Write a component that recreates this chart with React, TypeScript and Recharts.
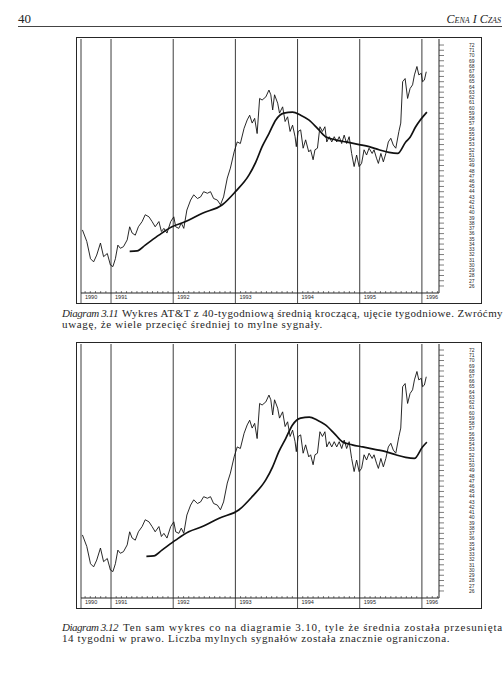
import React, { useLayoutEffect, useRef, useState } from "react";
import { LineChart, Line, XAxis, YAxis, ReferenceLine } from "recharts";

// weekly AT&T closes, read off the scan (decimal years)
const priceDates = [
  1990.54, 1990.61, 1990.67, 1990.72, 1990.77, 1990.83, 1990.88, 1990.94, 1990.99, 1991.03,
  1991.07, 1991.11, 1991.15, 1991.2, 1991.26, 1991.3, 1991.34, 1991.39, 1991.44, 1991.5,
  1991.55, 1991.61, 1991.66, 1991.71, 1991.77, 1991.81, 1991.85, 1991.9, 1991.96, 1992.01,
  1992.04, 1992.09, 1992.13, 1992.17, 1992.22, 1992.28, 1992.33, 1992.39, 1992.44, 1992.49,
  1992.55, 1992.6, 1992.65, 1992.71, 1992.76, 1992.81, 1992.87, 1992.92, 1992.98, 1993.03,
  1993.08, 1993.14, 1993.19, 1993.23, 1993.27, 1993.31, 1993.35, 1993.39, 1993.43, 1993.49,
  1993.54, 1993.57, 1993.6, 1993.63, 1993.68, 1993.71, 1993.76, 1993.8, 1993.84, 1993.88,
  1993.92, 1993.96, 1993.98, 1994.01, 1994.05, 1994.09, 1994.13, 1994.18, 1994.21, 1994.25,
  1994.28, 1994.32, 1994.36, 1994.4, 1994.44, 1994.47, 1994.51, 1994.55, 1994.59, 1994.63,
  1994.67, 1994.71, 1994.75, 1994.79, 1994.83, 1994.87, 1994.91, 1994.95, 1994.99, 1995.03,
  1995.07, 1995.11, 1995.15, 1995.2, 1995.23, 1995.27, 1995.3, 1995.34, 1995.38, 1995.42,
  1995.46, 1995.5, 1995.54, 1995.58, 1995.63, 1995.66, 1995.69, 1995.73, 1995.77, 1995.81,
  1995.85, 1995.88, 1995.92, 1995.95, 1995.99, 1996.01, 1996.04, 1996.07,
];
const priceValues = [
  36.7, 34.5, 31.2, 30.6, 31.9, 34.2, 31.6, 32.2, 30.0, 29.7,
  31.2, 33.8, 33.2, 33.5, 34.8, 37.3, 36.1, 35.7, 37.3, 38.3,
  39.6, 39.2, 38.3, 37.3, 38.3, 36.4, 37.0, 36.1, 38.3, 39.2,
  37.3, 37.0, 38.0, 37.0, 40.5, 42.4, 43.4, 42.7, 43.0, 44.0,
  43.7, 44.0, 42.7, 42.4, 41.5, 43.0, 46.6, 48.5, 51.6, 53.5,
  53.2, 56.1, 57.7, 58.6, 57.1, 58.0, 55.1, 61.8, 61.5, 62.1,
  63.4, 62.5, 59.6, 62.5, 60.9, 59.0, 60.2, 57.4, 58.3, 55.5,
  56.7, 54.5, 52.6, 55.5, 55.8, 52.3, 53.9, 51.6, 52.0, 50.1,
  52.0, 52.3, 56.4, 55.5, 56.4, 53.5, 54.5, 53.5, 54.5, 53.5,
  54.5, 53.2, 54.8, 53.2, 54.5, 51.3, 48.8, 51.0, 48.8, 49.4,
  52.0, 51.0, 52.3, 51.3, 52.0, 50.4, 49.4, 51.3, 49.7, 51.3,
  53.5, 54.2, 52.9, 52.3, 55.5, 57.1, 65.0, 65.6, 61.8, 63.7,
  64.4, 66.3, 67.9, 66.3, 66.6, 65.0, 65.3, 66.9,
];

// 40-week moving average as drawn in diagram 3.11
const avgDates = [
  1991.3, 1991.42, 1991.55, 1991.77, 1991.98, 1992.2, 1992.47, 1992.79, 1993.0, 1993.22,
  1993.33, 1993.43, 1993.54, 1993.65, 1993.78, 1993.92, 1994.05, 1994.18, 1994.32, 1994.45,
  1994.61, 1994.78, 1994.99, 1995.15, 1995.31, 1995.47, 1995.61, 1995.74, 1995.81, 1995.9,
  1996.08,
];
const avgValues = [
  32.6, 32.7, 33.8, 35.7, 37.3, 38.3, 39.9, 41.5, 44.0, 47.2,
  49.7, 52.6, 55.1, 57.7, 59.0, 59.2, 58.6, 57.7, 56.1, 54.5,
  53.9, 53.5, 53.0, 52.6, 52.0, 51.5, 51.3, 53.5, 54.4, 56.4,
  59.2,
];

const yearLines = [1991, 1992, 1993, 1994, 1995, 1996];
const yearLabels = ["1990", "1991", "1992", "1993", "1994", "1995", "1996"];
const priceTicks = [
  72, 71, 70, 69, 68, 67, 66, 65, 64, 63, 62, 61, 60, 59, 58, 57, 56, 55, 54, 53, 52, 51, 50,
  49, 48, 47, 46, 45, 44, 43, 42, 41, 40, 39, 38, 37, 36, 35, 34, 33, 32, 31, 30, 29, 28, 27, 26,
];

const X_MIN = 1990.517;
const X_MAX = 1996.275;
const Y_MIN = 24.66;
const Y_MAX = 73.15;
const SHIFT_WEEKS = 14;

const INK = "#262626";

// month marks along the time axis, the first one is the left edge (labelled 1990)
const monthTicks: number[] = [X_MIN];
for (let m = 1; ; m++) {
  const t = 1990 + (6 + m) / 12;
  if (t > X_MAX) break;
  monthTicks.push(t);
}

function buildRows(shiftYears: number) {
  const rows = new Map<number, any>();
  priceDates.forEach((t, i) => rows.set(t, { t, price: priceValues[i] }));
  const last = priceDates[priceDates.length - 1];
  avgDates.forEach((d, i) => {
    const t = Math.round((d + shiftYears) * 1000) / 1000;
    if (t > last + 0.02) return;
    const row = rows.get(t) ?? { t };
    row.avg = avgValues[i];
    rows.set(t, row);
  });
  return [...rows.values()].sort((a, b) => a.t - b.t);
}

function TimeTick(props: any) {
  const { x, y, payload } = props;
  const v = payload.value;
  const first = Math.abs(v - X_MIN) < 1e-6;
  const isYear = first || Math.abs(v - Math.round(v)) < 1e-6;
  if (!isYear) {
    return <line x1={x} x2={x} y1={y} y2={y - 2} stroke={INK} strokeWidth={0.6} />;
  }
  const label = first ? yearLabels[0] : yearLabels[Math.round(v) - 1990];
  return (
    <g>
      <line x1={x} x2={x} y1={y} y2={y + 10} stroke={INK} strokeWidth={0.8} />
      <text x={x + 4} y={y + 6} fontSize={5.5} fill={INK} fontFamily="Liberation Sans">
        {label}
      </text>
    </g>
  );
}

function Panel({ top, shiftWeeks }: { top: number; shiftWeeks: number }) {
  const rows = buildRows(shiftWeeks / 52);
  return (
    <>
      <div
        style={{
          position: "absolute",
          left: 76,
          top,
          width: 406,
          height: 267,
          border: `1px solid ${INK}`,
          boxSizing: "border-box",
        }}
      />
      <div style={{ position: "absolute", left: 76, top }}>
        <LineChart width={406} height={266} data={rows} margin={{ top: 2, right: 0, bottom: 0, left: 5 }}>
          <XAxis
            dataKey="t"
            type="number"
            domain={[X_MIN, X_MAX]}
            allowDataOverflow
            ticks={monthTicks}
            interval={0}
            height={10}
            tickSize={0}
            tickMargin={0}
            tickLine={false}
            axisLine={{ stroke: INK }}
            tick={(p: any) => <TimeTick {...p} />}
          />
          <YAxis
            orientation="right"
            type="number"
            domain={[Y_MIN, Y_MAX]}
            allowDataOverflow
            ticks={priceTicks}
            interval={0}
            width={43}
            tickSize={5}
            tickMargin={25}
            axisLine={{ stroke: INK }}
            tickLine={{ stroke: INK, strokeWidth: 0.6 }}
            tick={{ fontSize: 5, fill: INK, fontFamily: "Liberation Sans" }}
          />
          <ReferenceLine x={X_MIN} stroke={INK} strokeWidth={0.9} />
          {yearLines.map((y) => (
            <ReferenceLine key={y} x={y} stroke={INK} strokeWidth={0.9} />
          ))}
          <Line
            dataKey="price"
            type="linear"
            stroke="#111"
            strokeWidth={0.9}
            dot={false}
            connectNulls
            isAnimationActive={false}
          />
          <Line
            dataKey="avg"
            type="monotone"
            stroke="#111"
            strokeWidth={1.7}
            dot={false}
            connectNulls
            isAnimationActive={false}
          />
        </LineChart>
      </div>
    </>
  );
}

const serif = "Liberation Serif";

// svg text that widens/narrows its letter spacing to run exactly from x to x + width
function FitText({ x, y, width, italic, text }: { x: number; y: number; width: number; italic?: boolean; text: string }) {
  const ref = useRef<SVGTextElement>(null);
  const [spacing, setSpacing] = useState(0);
  useLayoutEffect(() => {
    const el = ref.current;
    if (!el) return;
    const prev = el.style.letterSpacing;
    el.style.letterSpacing = "0px";
    const natural = el.getComputedTextLength();
    el.style.letterSpacing = prev;
    setSpacing((width - natural) / Math.max(1, text.length));
  }, [width, text]);
  return (
    <text
      ref={ref}
      x={x}
      y={y}
      fontSize={11}
      fontStyle={italic ? "italic" : "normal"}
      fontFamily={serif}
      fill={INK}
      style={{ letterSpacing: `${spacing}px` }}
    >
      {text}
    </text>
  );
}

export default function App() {
  return (
    <div
      style={{
        position: "absolute",
        left: 0,
        top: 0,
        width: 504,
        height: 684,
        background: "#fff",
        overflow: "hidden",
      }}
    >
      <svg width={504} height={684} style={{ position: "absolute", left: 0, top: 0 }}>
        <text x={18} y={23} fontSize={13} fontFamily={serif} fill={INK}>
          40
        </text>
        <text
          x={501}
          y={23}
          textAnchor="end"
          fontSize={12}
          fontStyle="italic"
          fontFamily={serif}
          fill={INK}
          style={{ fontVariant: "small-caps" }}
        >
          Cena I Czas
        </text>
        <line x1={18} x2={502} y1={26.5} y2={26.5} stroke="#444" strokeWidth={1} />

        <FitText x={62} y={316.5} width={56} italic text="Diagram 3.11" />
        <FitText
          x={122}
          y={316.5}
          width={381}
          text="Wykres AT&T z 40-tygodniową średnią kroczącą, ujęcie tygodniowe. Zwróćmy"
        />
        <FitText x={62} y={327.5} width={261} text="uwagę, że wiele przecięć średniej to mylne sygnały." />

        <FitText x={62} y={630.5} width={56} italic text="Diagram 3.12" />
        <FitText
          x={123}
          y={630.5}
          width={380}
          text="Ten sam wykres co na diagramie 3.10, tyle że średnia została przesunięta"
        />
        <FitText
          x={62}
          y={641.5}
          width={388}
          text="14 tygodni w prawo. Liczba mylnych sygnałów została znacznie ograniczona."
        />
      </svg>

      <Panel top={37} shiftWeeks={0} />
      <Panel top={342} shiftWeeks={SHIFT_WEEKS} />
    </div>
  );
}
